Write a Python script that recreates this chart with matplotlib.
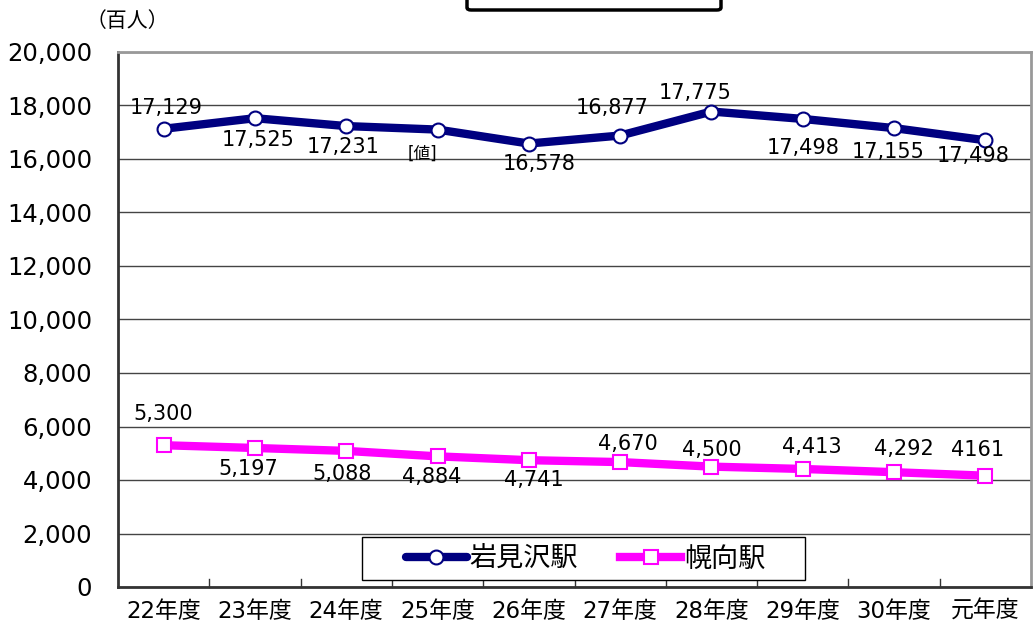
import matplotlib
matplotlib.use("Agg")
import matplotlib.pyplot as plt
from matplotlib.patches import FancyBboxPatch, Rectangle
from matplotlib.ticker import FuncFormatter

plt.rcParams['font.family'] = ['DejaVu Sans', 'Noto Sans CJK JP']

categories = ["22年度", "23年度", "24年度", "25年度", "26年度",
              "27年度", "28年度", "29年度", "30年度", "元年度"]
iwamizawa = [17129, 17525, 17231, 17100, 16578, 16877, 17775, 17498, 17155, 16700]
iwamizawa_labels = ["17,129", "17,525", "17,231", "[値]", "16,578",
                    "16,877", "17,775", "17,498", "17,155", "17,498"]
horomui = [5300, 5197, 5088, 4884, 4741, 4670, 4500, 4413, 4292, 4161]
horomui_labels = ["5,300", "5,197", "5,088", "4,884", "4,741",
                  "4,670", "4,500", "4,413", "4,292", "4161"]
series_names = ["岩見沢駅", "幌向駅"]
unit_label = "（百人）"

# label offsets in pixels (dx, dy) relative to the point (layout only)
blue_off = [(3, 21), (3, -22), (-3, -21), (-15, -24), (10, -20),
            (-8, 28), (-16, 19), (0, -29), (-6, -24), (-12, -16)]
pink_off = [(0, 31), (-7, -21), (-4, -23), (-6, -21), (5, -20),
            (8, 18), (0, 17), (9, 22), (10, 23), (-8, 26)]

W, H = 1034, 628
fig = plt.figure(figsize=(W / 100, H / 100), dpi=100)
L, R, T, B = 118, 1031, 52, 587
ax = fig.add_axes([L / W, 1 - B / H, (R - L) / W, (B - T) / H])

x = list(range(len(categories)))
navy = "#000080"
pink = "#FF00FF"

l1, = ax.plot(x, iwamizawa, color=navy, lw=6, marker='o', ms=10,
              mfc='white', mec=navy, mew=1.5, zorder=3, solid_capstyle='round')
l2, = ax.plot(x, horomui, color=pink, lw=6, marker='s', ms=10,
              mfc='white', mec=pink, mew=1.5, zorder=3)

for xi, v, s, (dx, dy) in zip(x, iwamizawa, iwamizawa_labels, blue_off):
    fs = 12 if s.startswith('[') else 15
    ax.annotate(s, (xi, v), xytext=(dx, dy), textcoords='offset pixels',
                ha='center', va='center', fontsize=fs, zorder=4)
for xi, v, s, (dx, dy) in zip(x, horomui, horomui_labels, pink_off):
    ax.annotate(s, (xi, v), xytext=(dx, dy), textcoords='offset pixels',
                ha='center', va='center', fontsize=15, zorder=4)

ax.set_xlim(-0.5, len(categories) - 0.5)
ax.set_ylim(0, 20000)
ax.set_yticks(range(0, 20001, 2000))
ax.yaxis.set_major_formatter(FuncFormatter(lambda v, p: f"{int(v):,}"))
ax.tick_params(axis='y', length=0, labelsize=17.5, pad=18.5)
ax.set_xticks(x)
ax.set_xticklabels(categories, fontsize=16.5)
ax.tick_params(axis='x', length=0, pad=9)
for b in [i + 0.5 for i in x[:-1]]:
    ax.plot([b, b], [0, 300], color='#333333', lw=1, zorder=2, clip_on=False)

ax.grid(axis='y', color='#444444', lw=1)
ax.set_axisbelow(True)
ax.spines['left'].set_color('#333333')
ax.spines['left'].set_linewidth(2)
ax.spines['bottom'].set_color('#333333')
ax.spines['bottom'].set_linewidth(2)
ax.spines['top'].set_color('#999999')
ax.spines['top'].set_linewidth(2)
ax.spines['right'].set_color('#999999')
ax.spines['right'].set_linewidth(2)

fig.text(86 / W, 1 - 21 / H, unit_label, fontsize=15, va='center', ha='left',
         family=['Noto Sans CJK JP'])

# legend frame
frame = Rectangle((362 / W, 1 - 580 / H), (805 - 362) / W, 43 / H,
                  transform=fig.transFigure, fc='white', ec='black', lw=1,
                  zorder=5)
fig.patches.append(frame)
leg = fig.legend([l1, l2], series_names, loc='center left',
                 bbox_to_anchor=(406 / W, 1 - 559 / H), ncol=2,
                 frameon=False, handlelength=2.25, columnspacing=1.55,
                 handletextpad=0.1, borderpad=0, borderaxespad=0,
                 prop={'family': ['Noto Sans CJK JP'], 'size': 19.5})
leg.set_zorder(6)

box = FancyBboxPatch((467 / W, 1 - 10 / H), 254 / W, 0.1,
                     boxstyle="round,pad=0,rounding_size=0.004",
                     transform=fig.transFigure, fc='white', ec='black',
                     lw=2.5, clip_on=False)
fig.patches.append(box)

fig.savefig("out.png", dpi=100, facecolor='white')
